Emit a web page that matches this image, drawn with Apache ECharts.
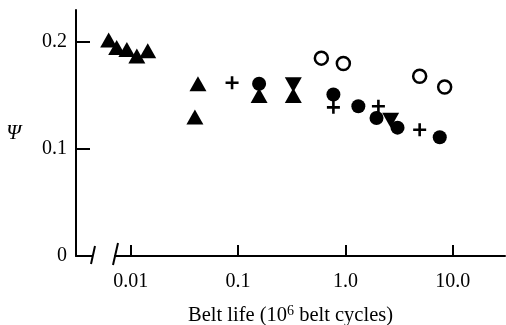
<!DOCTYPE html>
<html>
<head>
<meta charset="utf-8">
<script src="https://cdn.jsdelivr.net/npm/echarts@6/dist/echarts.min.js"></script>
<style>
  html, body { margin: 0; padding: 0; background: #fff; }
  #chart { width: 506px; height: 325px; }
</style>
</head>
<body>
<div id="chart"></div>
<script>
// belt life (10^6 cycles) vs psi
const triUp = [
  [0.00623, 0.202], [0.0074, 0.195], [0.0092, 0.193], [0.0114, 0.187], [0.0144, 0.192],
  [0.0423, 0.161], [0.0396, 0.130], [0.157, 0.150], [0.327, 0.150]
]
const triDown = [[0.327, 0.160], [2.64, 0.127]]
const plus = [[0.0879, 0.162], [0.773, 0.139], [2.03, 0.140], [4.92, 0.118]]
const dotFilled = [[0.157, 0.161], [0.773, 0.151], [1.32, 0.140], [1.95, 0.129], [3.06, 0.120], [7.57, 0.111]]
const dotOpen = [[0.597, 0.185], [0.957, 0.180], [4.92, 0.168], [8.41, 0.158]]

const xTicks = [0.01, 0.1, 1, 10]
const xTickLabels = ['0.01', '0.1', '1.0', '10.0']
const yTicks = [0, 0.1, 0.2]

const serif = 'Liberation Serif'
const plusPath = 'path://M4,0H6V4H10V6H6V10H4V6H0V4H4Z'

// x axis runs on log10(belt life)
const lg = pts => pts.map(([x, y]) => [Math.log10(x), y])
const xTickExp = xTicks.map(t => Math.round(Math.log10(t)))
const xLabel = v => {
  const i = xTickExp.indexOf(Math.round(v))
  return i < 0 ? '' : xTickLabels[i]
}
const xMin = -2.51
const xMax = 1.487

const chart = echarts.init(document.getElementById('chart'))

chart.setOption({
  animation: false,
  grid: { left: 76, right: 1, top: 10, bottom: 69, outerBoundsMode: 'none' },
  xAxis: [
    {
      type: 'value',
      min: xMin,
      max: xMax,
      axisLine: { onZero: false, lineStyle: { color: '#000', width: 2 } },
      axisTick: { show: true, inside: true, length: 11, lineStyle: { color: '#000', width: 2 }, customValues: xTickExp },
      axisLabel: {
        customValues: xTickExp,
        color: '#000', fontFamily: serif, fontSize: 20, margin: 16,
        formatter: xLabel
      },
      splitLine: { show: false },
      name: '{a|Belt life (10}{s|6}{a| belt cycles)}',
      nameLocation: 'middle',
      nameGap: 49,
      nameTextStyle: {
        rich: {
          a: { fontFamily: serif, fontSize: 20.5, color: '#000', lineHeight: 22 },
          s: { fontFamily: serif, fontSize: 14, color: '#000', lineHeight: 22, padding: [0, 0, 9, 0] }
        }
      }
    },
    {
      // plain copy of the scale that only carries the inward ticks
      type: 'value',
      min: xMin,
      max: xMax,
      position: 'bottom',
      axisLine: { show: false, onZero: false },
      axisTick: { show: true, inside: true, length: 11, lineStyle: { color: '#000', width: 2 }, customValues: xTickExp },
      axisLabel: { show: false },
      splitLine: { show: false }
    }
  ],
  yAxis: {
    type: 'value',
    min: 0,
    max: 0.23,
    axisLine: { show: true, onZero: false, lineStyle: { color: '#000', width: 2 } },
    axisTick: { show: true, inside: true, length: 14, lineStyle: { color: '#000', width: 2 }, customValues: yTicks },
    axisLabel: {
      customValues: yTicks,
      color: '#000', fontFamily: serif, fontSize: 20, margin: 9,
      formatter: v => v === 0 ? '0' : v.toFixed(1)
    },
    splitLine: { show: false },
    name: 'Ψ',
    nameLocation: 'middle',
    nameRotate: 0,
    nameGap: 55,
    nameTextStyle: { fontFamily: serif, fontStyle: 'italic', fontSize: 21, color: '#000', padding: [21, 0, 0, 0] }
  },
  series: [
    { type: 'scatter', data: lg(triUp), symbol: 'triangle', symbolSize: [17, 15], itemStyle: { color: '#000', opacity: 1 } },
    { type: 'scatter', data: lg(triDown), symbol: 'triangle', symbolRotate: 180, symbolSize: [17, 15], itemStyle: { color: '#000', opacity: 1 } },
    { type: 'scatter', data: lg(plus), symbol: plusPath, symbolSize: 13, itemStyle: { color: '#000', opacity: 1 } },
    { type: 'scatter', data: lg(dotFilled), symbol: 'circle', symbolSize: 14, itemStyle: { color: '#000', opacity: 1 } },
    { type: 'scatter', data: lg(dotOpen), symbol: 'circle', symbolSize: 13, itemStyle: { color: '#fff', borderColor: '#000', borderWidth: 2.5, opacity: 1 } }
  ],
  // axis break marks on the x axis
  graphic: [
    { type: 'rect', shape: { x: 93, y: 251, width: 21, height: 9 }, style: { fill: '#fff' }, z: 100 },
    { type: 'line', shape: { x1: 95, y1: 246, x2: 91, y2: 264 }, style: { stroke: '#000', lineWidth: 2 }, z: 101 },
    { type: 'line', shape: { x1: 118, y1: 243, x2: 113, y2: 265 }, style: { stroke: '#000', lineWidth: 2 }, z: 101 }
  ]
})
</script>
</body>
</html>
